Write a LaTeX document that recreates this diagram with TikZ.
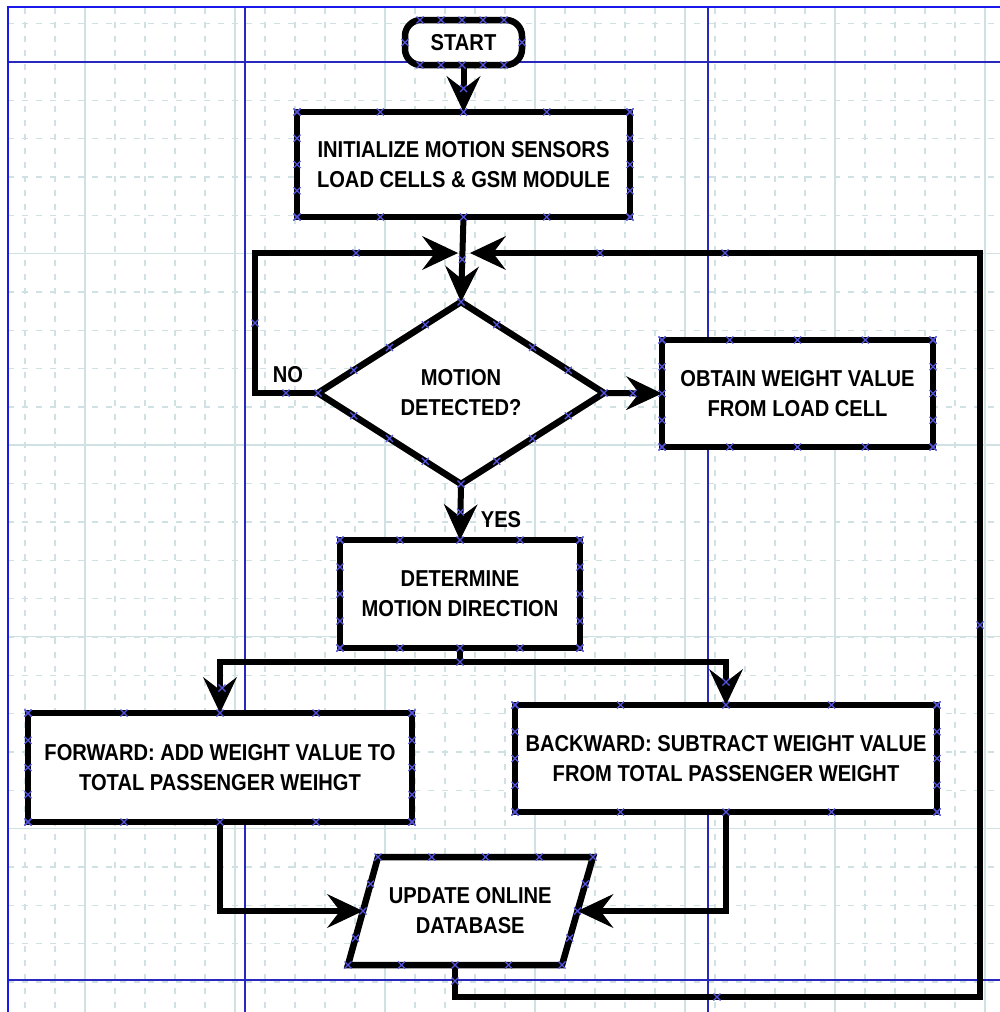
\documentclass[tikz,border=0pt]{standalone}
\usepackage{fontspec}
\setmainfont{Liberation Sans}[FakeStretch=0.875]
\usetikzlibrary{arrows.meta,shapes.geometric,calc}
\definecolor{gridc}{RGB}{208,225,227}
\definecolor{pageb}{RGB}{40,40,190}
\definecolor{edgeb}{RGB}{25,25,235}
\definecolor{markc}{RGB}{85,85,225}
\newcommand\flfont{\fontsize{23}{30}\selectfont\bfseries}
\tikzset{
  box/.style={draw=black, line width=6.5pt, fill=white, rectangle, inner sep=0pt,
    outer sep=0pt, align=center, font=\flfont},
  conn/.style={line width=6pt, draw=black},
  arr/.style={conn, -{Stealth[length=36pt,width=34pt,inset=13pt,line width=1pt]}},
  xm/.pic={\draw[markc,line width=1.1pt] (-3.5,-3.5)--(3.5,3.5) (-3.5,3.5)--(3.5,-3.5);},
  lbl/.style={font=\flfont, inner sep=0pt, align=center},
  gridd/.style={gridc, line width=1.1pt, dash pattern=on 6pt off 8pt},
  grids/.style={gridc, line width=1.3pt},
}
\begin{document}
\begin{tikzpicture}[x=1pt,y=-1pt]
\useasboundingbox (0,0) rectangle (1000,1012);
\fill[white] (0,0) rectangle (1000,1012);

% drawing-sheet grid
\foreach \x in {25,55,...,985} \draw[gridd] (\x,8) -- (\x,1012);
\foreach \x in {85,235,385,535,685,835,985} \draw[grids] (\x,8) -- (\x,1012);
\foreach \k in {0,...,25} \draw[gridd] (8,{23.7+38.333*\k}) -- (1000,{23.7+38.333*\k});
\foreach \y in {253.7,445,636.7,828.3} \draw[grids] (8,\y) -- (1000,\y);

% page borders
\draw[pageb, line width=2pt] (8,62) -- (1000,62) (8,980) -- (1000,980)
  (245,7) -- (245,1012) (708,7) -- (708,1012);
\draw[edgeb, line width=2.5pt] (1000,7) -- (8,7) -- (8,1012);

% flowchart shapes
\node[box, rounded corners=16pt, minimum width=117pt, minimum height=45pt] (start) at (463.5,42.5) {START};
\node[box, minimum width=333pt, minimum height=105pt] (init) at (463.5,164.5)
  {INITIALIZE MOTION SENSORS\\LOAD CELLS \& GSM MODULE};
\node[box, diamond, aspect=1.57, minimum width=286pt, minimum height=182pt] (dia) at (461,393)
  {MOTION\\DETECTED?};
\node[box, minimum width=271pt, minimum height=107pt] (obt) at (797.5,393.5)
  {OBTAIN WEIGHT VALUE\\FROM LOAD CELL};
\node[box, minimum width=240pt, minimum height=108pt] (det) at (460,594)
  {DETERMINE\\MOTION DIRECTION};
\node[box, minimum width=384pt, minimum height=109pt] (fwd) at (220,767.5)
  {FORWARD: ADD WEIGHT VALUE TO\\TOTAL PASSENGER WEIHGT};
\node[box, minimum width=422pt, minimum height=107pt] (bwd) at (726,758.5)
  {BACKWARD: SUBTRACT WEIGHT VALUE\\FROM TOTAL PASSENGER WEIGHT};

% data (parallelogram) shape
\coordinate (pTL) at (378,857);
\coordinate (pTR) at (593,857);
\coordinate (pBR) at (562,965);
\coordinate (pBL) at (348,965);
\draw[line width=6.5pt, fill=white] (pTL) -- (pTR) -- (pBR) -- (pBL) -- cycle;
\node[lbl] (db) at (470.25,911) {UPDATE ONLINE\\DATABASE};
\coordinate (dbL) at ($(pTL)!0.5!(pBL)$);
\coordinate (dbR) at ($(pTR)!0.5!(pBR)$);
\coordinate (dbB) at (455,965);

% labels
\node[lbl] (no) at (288,375) {NO};
\node[lbl] (yes) at (501,520) {YES};

% connectors
\coordinate (noEnd) at (458,253);
\coordinate (retEnd) at (470,253);
\coordinate (split) at ($(det.south)+(0,14)$);
\coordinate (rc) at (980,997);
\draw[arr] (start.south) -- (init.north);
\draw[arr] (init.south) -- (dia.north);
\draw[arr] (dia.west) -- ++(-63,0) |- (noEnd);
\draw[arr] (dia.east) -- (obt.west);
\draw[arr] (dia.south) -- (det.north);
\draw[arr] (det.south) -- (split) -| (fwd.north);
\draw[arr] (split) -| (bwd.north);
\draw[arr] (fwd.south) |- (dbL);
\draw[arr] (bwd.south) |- (dbR);
\draw[arr] (dbB) |- (rc) |- (retEnd);

% connection-point markers
\foreach \n in {init,obt,det,fwd,bwd}{
  \foreach \t in {0,0.25,0.5,0.75,1}{
    \pic at ($(\n.north west)!\t!(\n.north east)$) {xm};
    \pic at ($(\n.south west)!\t!(\n.south east)$) {xm};
    \pic at ($(\n.north west)!\t!(\n.south west)$) {xm};
    \pic at ($(\n.north east)!\t!(\n.south east)$) {xm};
  }
}
\foreach \a/\b in {north/east,east/south,south/west,west/north}
  \foreach \t in {0,0.25,0.5,0.75} \pic at ($(dia.\a)!\t!(dia.\b)$) {xm};
\foreach \a/\b in {pTL/pTR,pTR/pBR,pBR/pBL,pBL/pTL}
  \foreach \t in {0,0.25,0.5,0.75} \pic at ($(\a)!\t!(\b)$) {xm};
\foreach \x in {420,441,462,483,504}{
  \pic at (\x,20) {xm};
  \pic at (\x,65) {xm};
}
\pic at (start.west) {xm};
\pic at (start.east) {xm};
\pic at ($(start.south)!0.5!(init.north)$) {xm};
\pic at ($(init.south)!0.5!(dia.north)$) {xm};
\pic at ($(dia.south)!0.5!(det.north)$) {xm};
\pic at ($(dia.east)!0.5!(obt.west)$) {xm};
\pic at (286,393) {xm};
\pic at (255,323) {xm};
\pic at (356,253) {xm};
\pic at (split) {xm};
\pic at (222,688) {xm};
\pic at (726,682) {xm};
\pic at (455,981) {xm};
\pic at (717,997) {xm};
\pic at (980,625) {xm};
\pic at (725,253) {xm};
\pic at (600,253) {xm};
\end{tikzpicture}
\end{document}
